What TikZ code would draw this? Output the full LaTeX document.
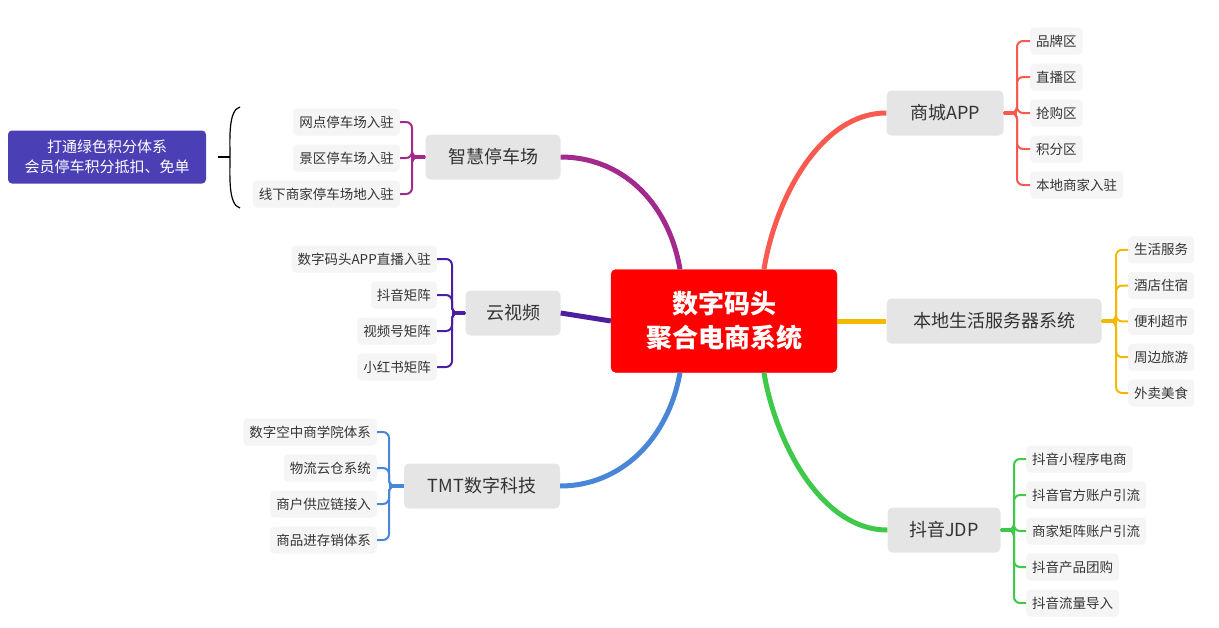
\documentclass[tikz,border=0pt]{standalone}
\usepackage{fontspec}
\setmainfont{Noto Sans CJK SC}
\begin{document}
\begin{tikzpicture}[x=1pt,y=-1pt,
  main/.style={fill=gray!20,rounded corners=5pt,minimum height=45pt,inner xsep=6pt,font=\fontsize{18}{21}\selectfont,text=black!80},
  sub/.style={fill=gray!8,rounded corners=4pt,minimum height=27pt,inner xsep=6pt,font=\fontsize{13.5}{15}\selectfont,text=black!80},
  br/.style={line width=2pt,rounded corners=6pt},
  cn/.style={line width=5pt}]
\useasboundingbox (0,0) rectangle (1219,627);
\definecolor{cR}{HTML}{F85A50}\definecolor{cO}{HTML}{F5B800}\definecolor{cG}{HTML}{3EC94B}
\definecolor{cP}{HTML}{A22A8C}\definecolor{cI}{HTML}{4B1FA0}\definecolor{cB}{HTML}{4A86D8}
\node[fill=red,draw=red,rounded corners=5pt,minimum width=226pt,minimum height=103pt,text=white,align=center,font=\fontsize{26}{34}\selectfont\bfseries] (ctr) at (724,321) {数字码头\\聚合电商系统};
\node[main,minimum width=117pt] (app) at (945,113) {商城APP};
\node[main,minimum width=215pt] (loc) at (994,321) {本地生活服务器系统};
\node[main,minimum width=113pt] (dy) at (944,530) {抖音JDP};
\node[main,minimum width=135pt] (pk) at (493,157) {智慧停车场};
\node[main,minimum width=95pt] (yv) at (513,313) {云视频};
\node[main,minimum width=156pt] (tmt) at (482,486) {TMT数字科技};
% connectors from center
\draw[cn,cR] ([xshift=40pt]ctr.north) .. controls (775,200) and (820,113) .. (app.west);
\draw[cn,cO] (ctr.east) -- (loc.west);
\draw[cn,cG] ([xshift=40pt]ctr.south) .. controls (775,440) and (820,530) .. (dy.west);
\draw[cn,cP] ([xshift=-44pt]ctr.north) .. controls (668,200) and (620,157) .. (pk.east);
\draw[cn,cI] (ctr.west) -- (yv.east);
\draw[cn,cB] ([xshift=-44pt]ctr.south) .. controls (668,440) and (620,486) .. (tmt.east);
% right children
\draw[line width=4pt,cR] (app.east) -- (1017,113);
\draw[line width=4pt,cO] (loc.east) -- (1116,321);
\draw[line width=4pt,cG] (dy.east) -- (1014,530);
\draw[line width=4pt,cP] (pk.west) -- (412,157);
\draw[line width=4pt,cI] (yv.west) -- (452,313);
\draw[line width=4pt,cB] (tmt.west) -- (389,486);
\foreach \t [count=\i] in {品牌区,直播区,抢购区,积分区,本地商家入驻}{
  \node[sub,anchor=west] (a\i) at (1030,5+36*\i) {\t};
  \draw[br,cR] (app.east) -- (1017,113) |- (a\i.west);}
\foreach \t [count=\i] in {生活服务,酒店住宿,便利超市,周边旅游,外卖美食}{
  \node[sub,anchor=west] (l\i) at (1128,214+35.8*\i) {\t};
  \draw[br,cO] (loc.east) -- (1116,321) |- (l\i.west);}
\foreach \t [count=\i] in {抖音小程序电商,抖音官方账户引流,商家矩阵账户引流,抖音产品团购,抖音流量导入}{
  \node[sub,anchor=west] (d\i) at (1026,423+36*\i) {\t};
  \draw[br,cG] (dy.east) -- (1014,530) |- (d\i.west);}
% left children
\foreach \t [count=\i] in {网点停车场入驻,景区停车场入驻,线下商家停车场地入驻}{
  \node[sub,anchor=east] (p\i) at (400,86+36*\i) {\t};
  \draw[br,cP] (pk.west) -- (412,157) |- (p\i.east);}
\foreach \t [count=\i] in {数字码头APP直播入驻,抖音矩阵,视频号矩阵,小红书矩阵}{
  \node[sub,anchor=east] (v\i) at (437,223+36*\i) {\t};
  \draw[br,cI] (yv.west) -- (452,313) |- (v\i.east);}
\foreach \t [count=\i] in {数字空中商学院体系,物流云仓系统,商户供应链接入,商品进存销体系}{
  \node[sub,anchor=east] (t\i) at (377,396+36*\i) {\t};
  \draw[br,cB] (tmt.west) -- (389,486) |- (t\i.east);}
% summary
\node[fill={rgb,255:red,74;green,63;blue,181},rounded corners=4pt,text=white,align=center,minimum width=198pt,minimum height=53pt,font=\fontsize{15}{20}\selectfont] (sm) at (107,157) {打通绿色积分体系\\会员停车积分抵扣、免单};
\draw[line width=1.2pt] (sm.east) ++(12,0) -- (230,157);
\draw[line width=1.2pt] (240,107) .. controls (228,110) and (230,140) .. (230,157) .. controls (230,175) and (228,205) .. (240,208);
\end{tikzpicture}
\end{document}
